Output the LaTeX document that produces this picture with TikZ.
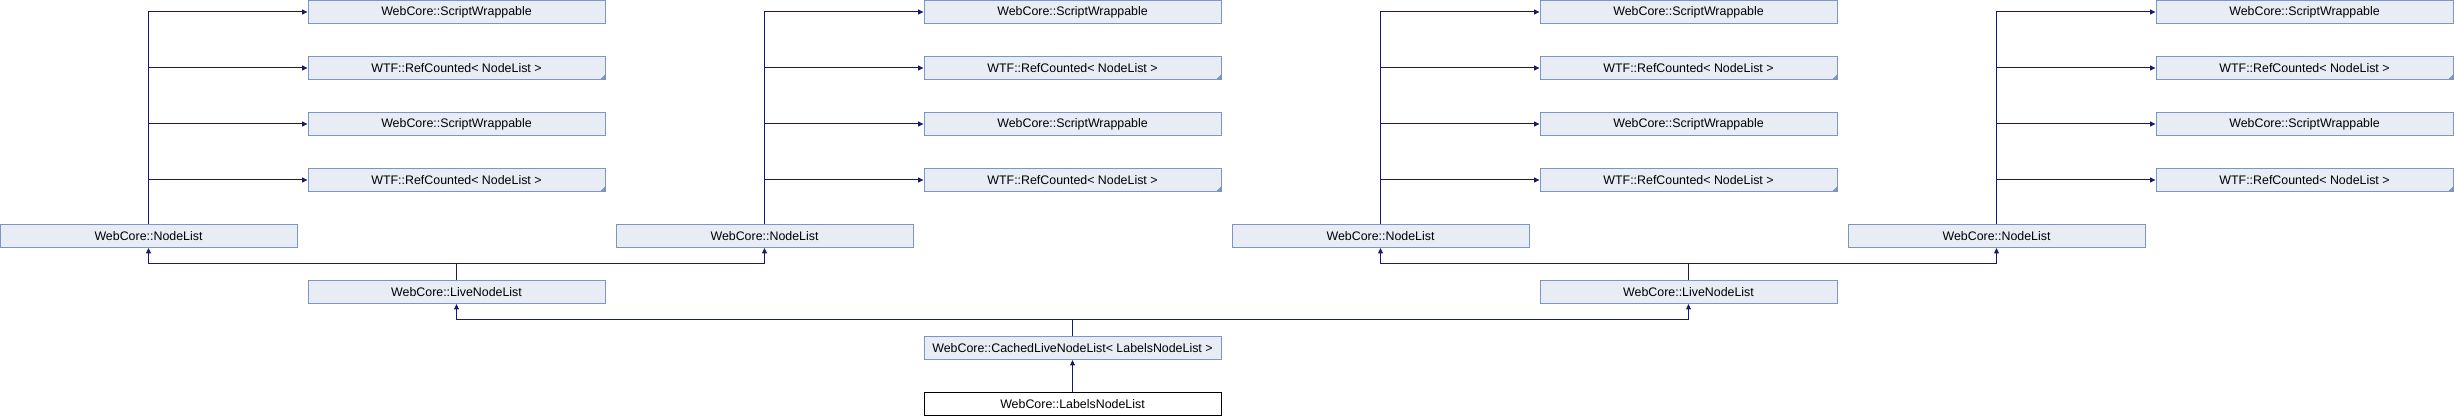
\documentclass[tikz,border=0pt]{standalone}
\usepackage{fontspec}
\setmainfont{Liberation Sans}
\usetikzlibrary{arrows.meta}

\definecolor{clsfill}{RGB}{232,236,244}
\definecolor{clsline}{RGB}{124,149,197}
\definecolor{edgecol}{RGB}{25,25,112}

\tikzset{
  cls/.style={draw=clsline, fill=clsfill, line width=0.75pt, inner sep=0pt,
    minimum width=222.75pt, minimum height=17.25pt,
    font=\fontsize{9.3}{11}\selectfont},
  thiscls/.style={cls, draw=black, fill=white},
  edge/.style={draw=edgecol, line width=0.75pt, -{Triangle[length=4pt,width=3.6pt]}},
}

\begin{document}
\begin{tikzpicture}[x=0.75pt,y=0.75pt,yscale=-1,xscale=1]
\useasboundingbox (0,0) rectangle (2454,416);

% Top row: bases of NodeList
\node[cls] (sw1a) at (456.5,12) {WebCore::ScriptWrappable};
\node[cls] (rc1a) at (456.5,68) {WTF::RefCounted< NodeList >};
\node[cls] (sw1b) at (456.5,124) {WebCore::ScriptWrappable};
\node[cls] (rc1b) at (456.5,180) {WTF::RefCounted< NodeList >};
\node[cls] (sw2a) at (1072.5,12) {WebCore::ScriptWrappable};
\node[cls] (rc2a) at (1072.5,68) {WTF::RefCounted< NodeList >};
\node[cls] (sw2b) at (1072.5,124) {WebCore::ScriptWrappable};
\node[cls] (rc2b) at (1072.5,180) {WTF::RefCounted< NodeList >};
\node[cls] (sw3a) at (1688.5,12) {WebCore::ScriptWrappable};
\node[cls] (rc3a) at (1688.5,68) {WTF::RefCounted< NodeList >};
\node[cls] (sw3b) at (1688.5,124) {WebCore::ScriptWrappable};
\node[cls] (rc3b) at (1688.5,180) {WTF::RefCounted< NodeList >};
\node[cls] (sw4a) at (2304.5,12) {WebCore::ScriptWrappable};
\node[cls] (rc4a) at (2304.5,68) {WTF::RefCounted< NodeList >};
\node[cls] (sw4b) at (2304.5,124) {WebCore::ScriptWrappable};
\node[cls] (rc4b) at (2304.5,180) {WTF::RefCounted< NodeList >};

% NodeList row
\node[cls] (nl1) at (148.5,236) {WebCore::NodeList};
\node[cls] (nl2) at (764.5,236) {WebCore::NodeList};
\node[cls] (nl3) at (1380.5,236) {WebCore::NodeList};
\node[cls] (nl4) at (1996.5,236) {WebCore::NodeList};

% LiveNodeList row
\node[cls] (lnl1) at (456.5,292) {WebCore::LiveNodeList};
\node[cls] (lnl2) at (1688.5,292) {WebCore::LiveNodeList};

% Bottom
\node[cls] (cln) at (1072.5,348) {WebCore::CachedLiveNodeList< LabelsNodeList >};
\node[thiscls] (lbl) at (1072.5,404) {WebCore::LabelsNodeList};

% template corner marks
\foreach \n in {rc1a,rc1b,rc2a,rc2b,rc3a,rc3b,rc4a,rc4b}
  \fill[clsline] (\n.south east) -- ++(-6,0) -- ++(6,-6) -- cycle;

% NodeList -> bases
\draw[edge] (nl1.north) |- (sw1a.west);
\draw[edge] (nl1.north) |- (rc1a.west);
\draw[edge] (nl1.north) |- (sw1b.west);
\draw[edge] (nl1.north) |- (rc1b.west);
\draw[edge] (nl2.north) |- (sw2a.west);
\draw[edge] (nl2.north) |- (rc2a.west);
\draw[edge] (nl2.north) |- (sw2b.west);
\draw[edge] (nl2.north) |- (rc2b.west);
\draw[edge] (nl3.north) |- (sw3a.west);
\draw[edge] (nl3.north) |- (rc3a.west);
\draw[edge] (nl3.north) |- (sw3b.west);
\draw[edge] (nl3.north) |- (rc3b.west);
\draw[edge] (nl4.north) |- (sw4a.west);
\draw[edge] (nl4.north) |- (rc4a.west);
\draw[edge] (nl4.north) |- (sw4b.west);
\draw[edge] (nl4.north) |- (rc4b.west);

% LiveNodeList -> NodeList
\draw[edge] (lnl1.north) -- ++(0,-16) -| (nl1.south);
\draw[edge] (lnl1.north) -- ++(0,-16) -| (nl2.south);
\draw[edge] (lnl2.north) -- ++(0,-16) -| (nl3.south);
\draw[edge] (lnl2.north) -- ++(0,-16) -| (nl4.south);

% CachedLiveNodeList -> LiveNodeList
\draw[edge] (cln.north) -- ++(0,-16) -| (lnl1.south);
\draw[edge] (cln.north) -- ++(0,-16) -| (lnl2.south);

% LabelsNodeList -> CachedLiveNodeList
\draw[edge] (lbl.north) -- (cln.south);

\end{tikzpicture}
\end{document}
